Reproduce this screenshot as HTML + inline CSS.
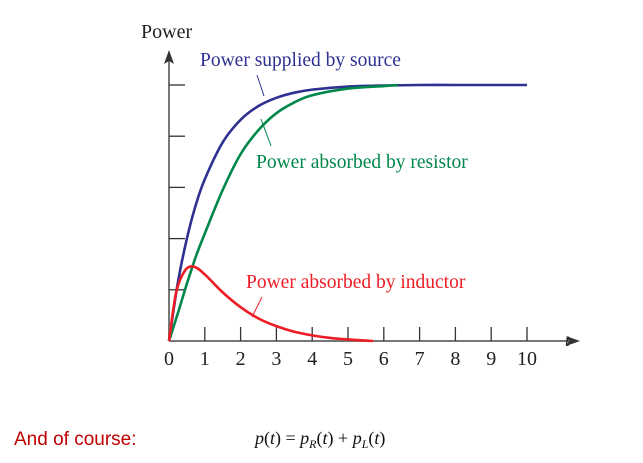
<!DOCTYPE html>
<html><head><meta charset="utf-8"><style>
body{margin:0;background:#fff;width:643px;height:463px;overflow:hidden}
svg{display:block}
.s{font-family:"Liberation Serif",serif}
</style></head><body>
<svg width="643" height="463">
<g id="axes"></g>
<g id="series"></g>
<text class="s" x="141" y="38" font-size="20" fill="#222">Power</text>
<text class="s" x="565" y="346" font-size="17" font-style="italic" fill="#222">t</text>
<text class="s" x="200" y="66" font-size="19.5" fill="#2e3192">Power supplied by source</text>
<line x1="257" y1="75" x2="264" y2="96" stroke="#2e3192" stroke-width="1"/>
<text class="s" x="256" y="168" font-size="19.5" fill="#00874a">Power absorbed by resistor</text>
<line x1="261" y1="119" x2="271" y2="146" stroke="#00874a" stroke-width="1"/>
<text class="s" x="246" y="288" font-size="19.5" fill="#ee1c25">Power absorbed by inductor</text>
<line x1="262" y1="297" x2="252" y2="317" stroke="#ee1c25" stroke-width="1"/>
<text x="14" y="445" font-size="19" fill="#c00000" font-family="Liberation Sans,sans-serif">And of course:</text>
<text class="s" x="255" y="444" font-size="18" fill="#111"><tspan font-style="italic">p</tspan>(<tspan font-style="italic">t</tspan>) = <tspan font-style="italic">p</tspan><tspan font-style="italic" font-size="12" dy="4">R</tspan><tspan dy="-4">(</tspan><tspan font-style="italic">t</tspan>) + <tspan font-style="italic">p</tspan><tspan font-style="italic" font-size="12" dy="4">L</tspan><tspan dy="-4">(</tspan><tspan font-style="italic">t</tspan>)</text>
</svg>
<script>
const xTicks=[0,1,2,3,4,5,6,7,8,9,10];
const yTicks=[1,2,3,4,5];
const tSource=[0,0.25,0.5,0.75,1,1.5,2,2.5,3,3.5,4,5,6,7,8,9,10];
const pSource=[0,1.15,2.0,2.66,3.16,3.88,4.32,4.59,4.75,4.85,4.91,4.97,4.99,5,5,5,5];
const tRes=[0,0.25,0.5,0.75,1,1.5,2,2.5,3,3.5,4,5,6,6.4];
const pRes=[0,0.55,1.12,1.65,2.1,2.95,3.65,4.12,4.45,4.66,4.8,4.93,4.98,5];
const tInd=[0,0.2,0.45,0.7,1,1.5,2,2.5,3,3.5,4,4.5,5,5.7];
const pInd=[0,0.95,1.38,1.45,1.3,0.95,0.66,0.44,0.29,0.18,0.11,0.06,0.03,0];
const X=v=>169+v*35.8, Y=v=>341-v*51.2;
const NS="http://www.w3.org/2000/svg";
function mk(tag,attrs,parent){const e=document.createElementNS(NS,tag);for(const k in attrs)e.setAttribute(k,attrs[k]);parent.appendChild(e);return e;}
const ax=document.getElementById('axes'), se=document.getElementById('series');
let l=mk('line',{x1:169,y1:341,x2:572,y2:341,stroke:'#777','stroke-width':2},ax);


let a=mk('path',{d:'M580 341 L566 336 L569 341 L566 346Z',fill:'#333'},ax);


l=mk('line',{x1:169,y1:341,x2:169,y2:58,stroke:'#777','stroke-width':2},ax);


a=mk('path',{d:'M169 50 L164 64 L169 61 L174 64Z',fill:'#333'},ax);


xTicks.forEach(v=>{
 if(v>0){const t=mk('line',{x1:X(v),y1:341,x2:X(v),y2:327,stroke:'#333','stroke-width':1.3},ax);
 
 }
 const tx=mk('text',{x:X(v),y:365,'font-size':20,'text-anchor':'middle','class':'s',fill:'#222'},ax);
 tx.textContent=v;
 
 
});
yTicks.forEach(v=>{const t=mk('line',{x1:169,y1:Y(v),x2:185,y2:Y(v),stroke:'#333','stroke-width':1.3},ax);
 
 });
function path(ts,ps){const p=ts.map((t,i)=>[X(t),Y(ps[i])]);let d='M'+p[0];
 for(let i=0;i<p.length-1;i++){const p0=p[i-1]||p[i],p1=p[i],p2=p[i+1],p3=p[i+2]||p2;
  d+=' C'+(p1[0]+(p2[0]-p0[0])/6)+' '+(p1[1]+(p2[1]-p0[1])/6)+' '+(p2[0]-(p3[0]-p1[0])/6)+' '+(p2[1]-(p3[1]-p1[1])/6)+' '+p2[0]+' '+p2[1];}
 return d;}
let s=mk('path',{d:path(tSource,pSource),fill:'none',stroke:'#2e3192','stroke-width':2.6},se);


s=mk('path',{d:path(tRes,pRes),fill:'none',stroke:'#00874a','stroke-width':2.6},se);


s=mk('path',{d:path(tInd,pInd),fill:'none',stroke:'#ee1c25','stroke-width':2.6},se);


</script>
</body></html>
